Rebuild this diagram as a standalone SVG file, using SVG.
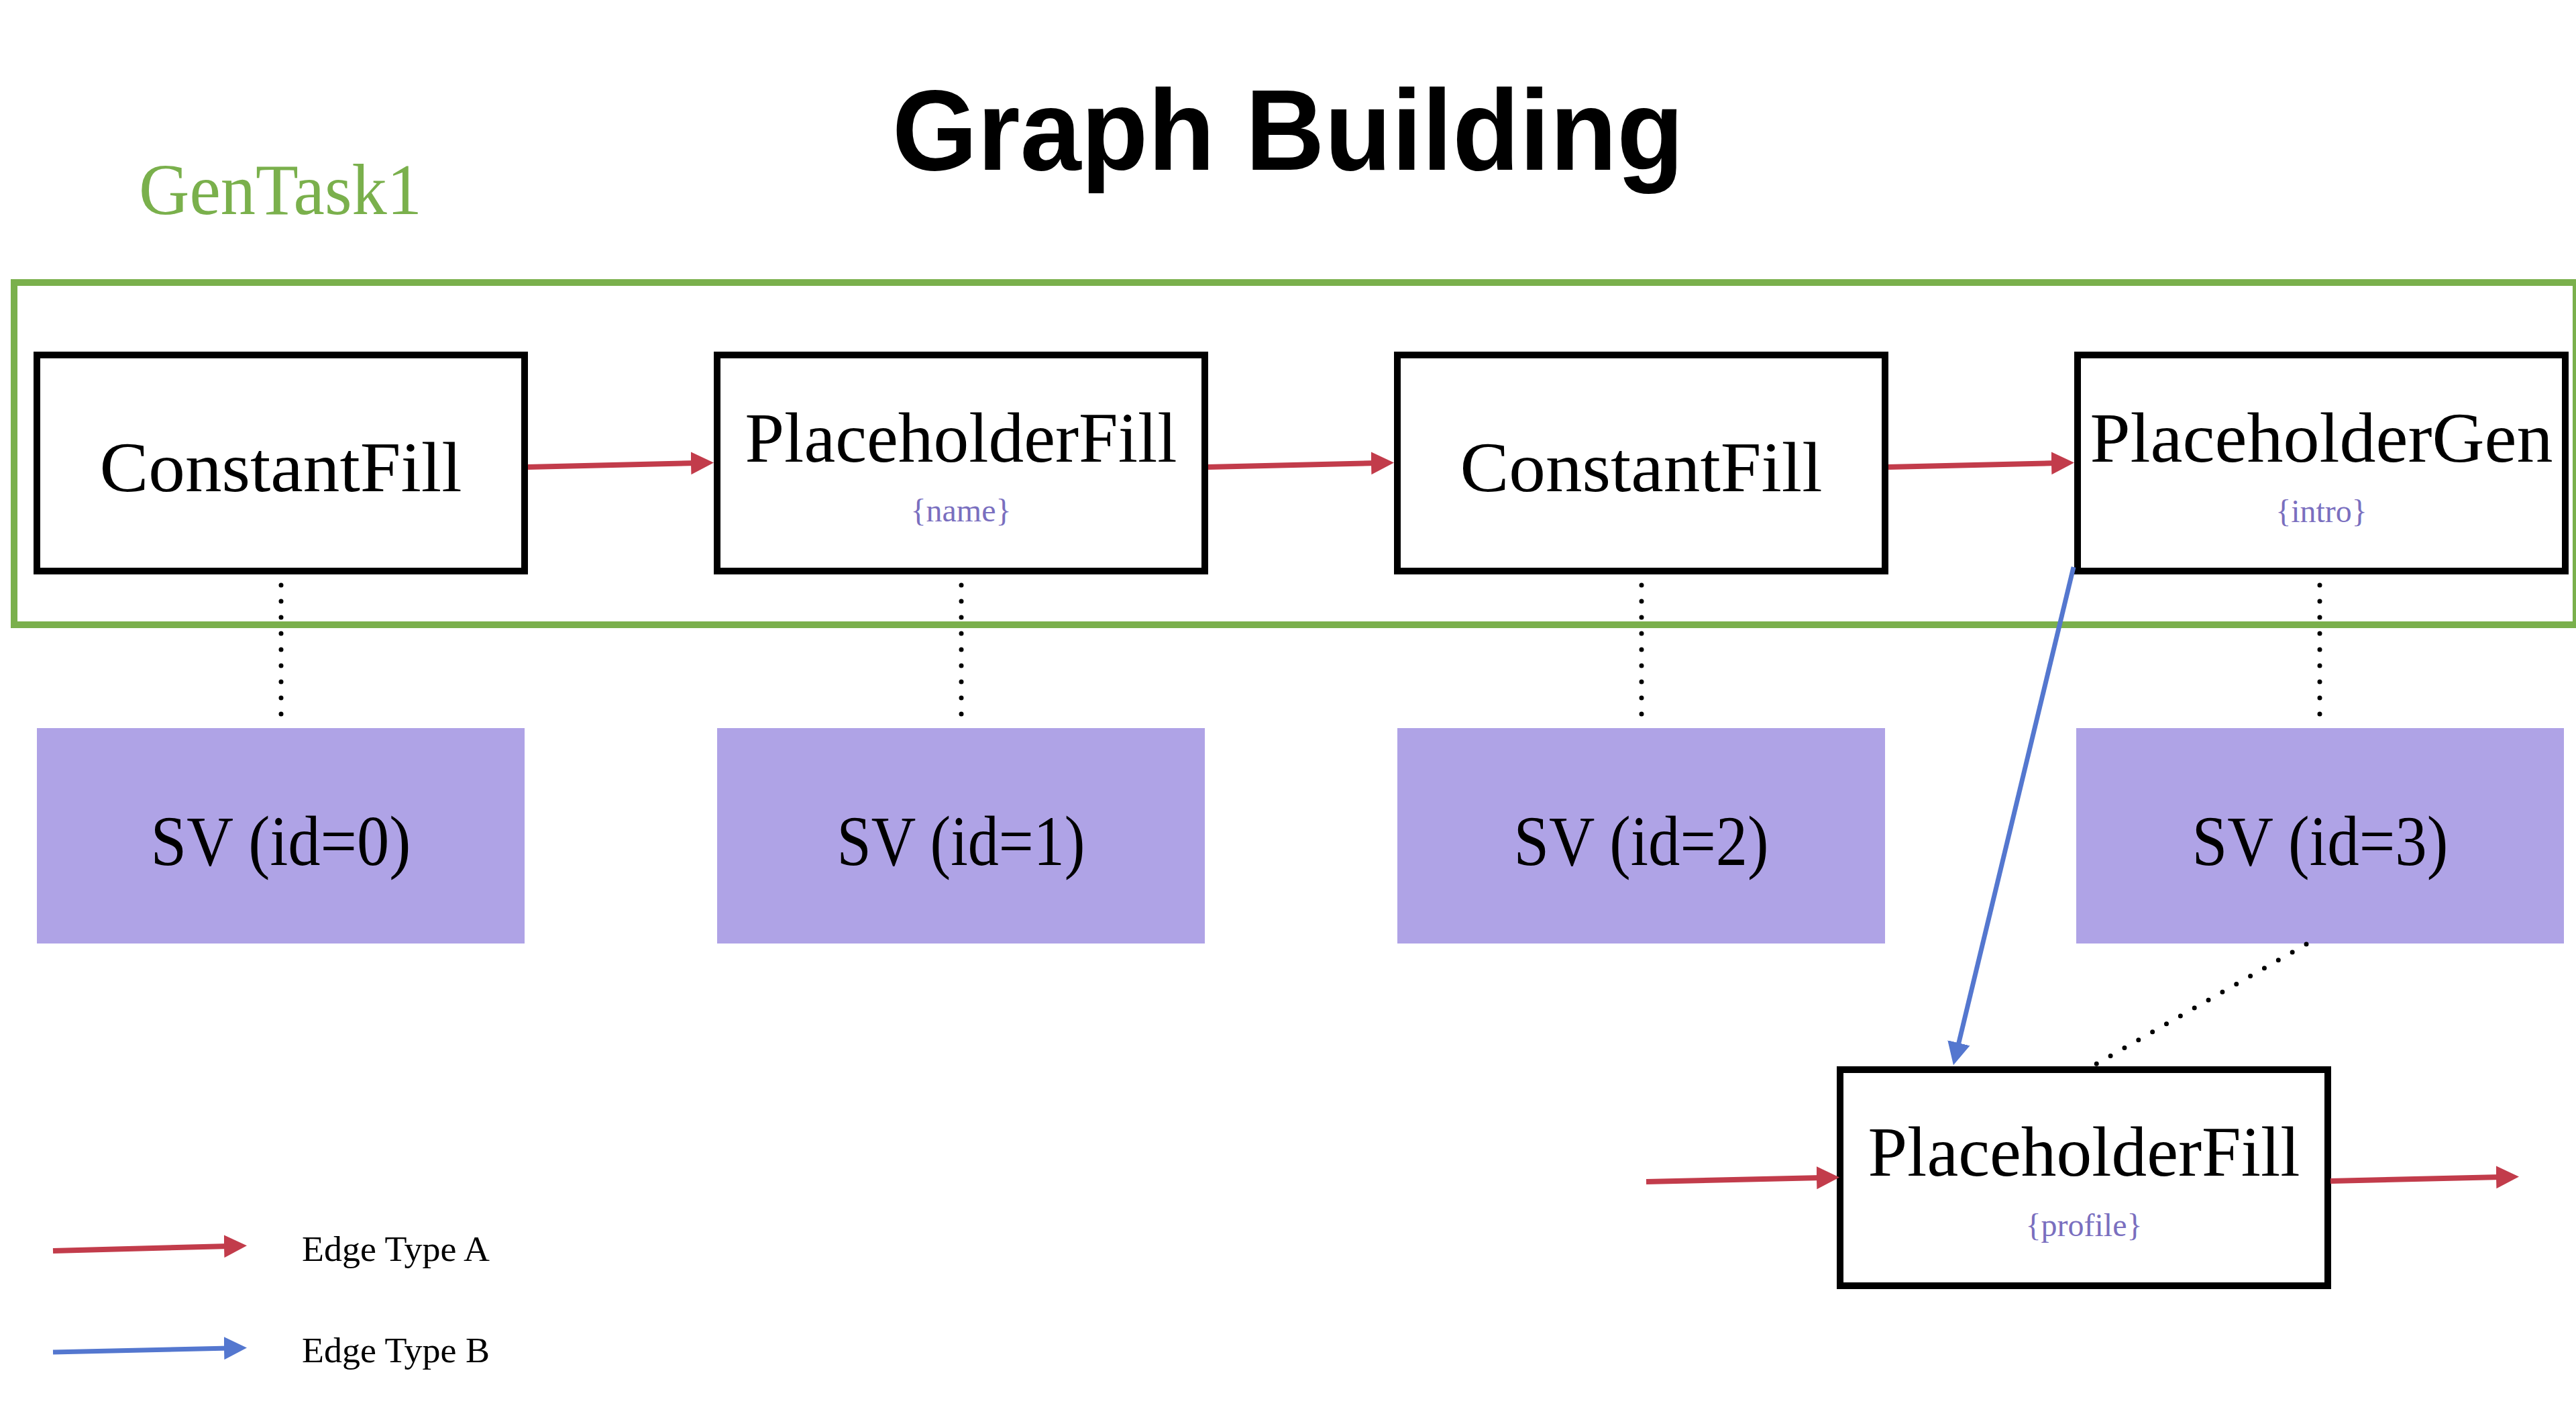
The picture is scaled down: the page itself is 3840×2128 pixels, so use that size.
<svg xmlns="http://www.w3.org/2000/svg" width="3840" height="2128" viewBox="0 0 3840 2128">
  <style>
    .title { font-family: "Liberation Sans", Arial, sans-serif; font-weight: bold; font-size: 170px; fill: #000; }
    .serif { font-family: "Liberation Serif", "Times New Roman", serif; }
    .op { fill: #fff; stroke: #000; stroke-width: 10; }
    .sv { fill: #afa3e6; stroke: none; }
    .lbl { font-size: 106px; fill: #000; text-anchor: middle; }
    .svlbl { font-size: 106px; fill: #000; text-anchor: middle; }
    .ph { font-size: 48px; fill: #7a6fbf; text-anchor: middle; }
    .edgeA { stroke: #c23c4b; stroke-width: 8; fill: none; marker-end: url(#headA); }
    .edgeB { stroke: #5477cf; stroke-width: 7; fill: none; marker-end: url(#headB); }
    .dot { stroke: #000; stroke-width: 7; stroke-linecap: round; stroke-dasharray: 0 24; fill: none; }
    .legend { font-size: 53px; fill: #000; }
  </style>
  <defs>
    <marker id="headA" markerUnits="userSpaceOnUse" markerWidth="34" markerHeight="34" refX="8" refY="17" orient="auto" viewBox="0 0 34 34">
      <path d="M0,0 L34,17 L0,34 Z" fill="#c23c4b"/>
    </marker>
    <marker id="headB" markerUnits="userSpaceOnUse" markerWidth="34" markerHeight="34" refX="8" refY="17" orient="auto" viewBox="0 0 34 34">
      <path d="M0,0 L34,17 L0,34 Z" fill="#5477cf"/>
    </marker>
  </defs>
  <rect width="3840" height="2128" fill="#fff"/>

  <text class="title" x="1920" y="253" text-anchor="middle" textLength="1180" lengthAdjust="spacingAndGlyphs">Graph Building</text>

  <g id="gentask1">
    <rect x="21" y="421" width="3819" height="510" fill="none" stroke="#7ab04c" stroke-width="10"/>
    <text class="serif" x="207" y="319" font-size="108" fill="#7ab04c" textLength="422" lengthAdjust="spacingAndGlyphs">GenTask1</text>
  </g>

  <g id="node-constantfill-1">
    <rect class="op" x="55" y="529" width="727" height="322"/>
    <text class="serif lbl" x="418.5" y="732" textLength="540" lengthAdjust="spacingAndGlyphs">ConstantFill</text>
  </g>
  <g id="node-placeholderfill-1">
    <rect class="op" x="1069" y="529" width="727" height="322"/>
    <text class="serif lbl" x="1432.5" y="688" textLength="644" lengthAdjust="spacingAndGlyphs">PlaceholderFill</text>
    <text class="serif ph" x="1432.5" y="777">{name}</text>
  </g>
  <g id="node-constantfill-2">
    <rect class="op" x="2083" y="529" width="727" height="322"/>
    <text class="serif lbl" x="2446.5" y="732" textLength="540" lengthAdjust="spacingAndGlyphs">ConstantFill</text>
  </g>
  <g id="node-placeholdergen">
    <rect class="op" x="3097" y="529" width="727" height="322"/>
    <text class="serif lbl" x="3460.5" y="688" textLength="690" lengthAdjust="spacingAndGlyphs">PlaceholderGen</text>
    <text class="serif ph" x="3460.5" y="778">{intro}</text>
  </g>

  <g id="node-sv0">
    <rect class="sv" x="55" y="1085" width="727" height="321"/>
    <text class="serif svlbl" x="418.5" y="1289" textLength="388" lengthAdjust="spacingAndGlyphs">SV (id=0)</text>
  </g>
  <g id="node-sv1">
    <rect class="sv" x="1069" y="1085" width="727" height="321"/>
    <text class="serif svlbl" x="1432.5" y="1289" textLength="370" lengthAdjust="spacingAndGlyphs">SV (id=1)</text>
  </g>
  <g id="node-sv2">
    <rect class="sv" x="2083" y="1085" width="727" height="321"/>
    <text class="serif svlbl" x="2446.5" y="1289" textLength="380" lengthAdjust="spacingAndGlyphs">SV (id=2)</text>
  </g>
  <g id="node-sv3">
    <rect class="sv" x="3095" y="1085" width="727" height="321"/>
    <text class="serif svlbl" x="3458.5" y="1289" textLength="382" lengthAdjust="spacingAndGlyphs">SV (id=3)</text>
  </g>

  <g id="node-placeholderfill-2">
    <rect class="op" x="2743" y="1594" width="727" height="322"/>
    <text class="serif lbl" x="3106.5" y="1752" textLength="644" lengthAdjust="spacingAndGlyphs">PlaceholderFill</text>
    <text class="serif ph" x="3106.5" y="1842">{profile}</text>
  </g>

  <g id="connectors">
    <line class="edgeA" x1="787" y1="696" x2="1038" y2="690"/>
    <line class="edgeA" x1="1801" y1="696" x2="2052" y2="690"/>
    <line class="edgeA" x1="2815" y1="696" x2="3066" y2="690"/>
    <line class="edgeA" x1="2454" y1="1761" x2="2716" y2="1755"/>
    <line class="edgeA" x1="3474" y1="1760" x2="3729" y2="1754"/>
    <line class="edgeB" x1="3091" y1="845" x2="2918" y2="1562"/>
    <line class="dot" x1="419" y1="872" x2="419" y2="1065"/>
    <line class="dot" x1="1433" y1="872" x2="1433" y2="1065"/>
    <line class="dot" x1="2447" y1="872" x2="2447" y2="1065"/>
    <line class="dot" x1="3458" y1="872" x2="3458" y2="1065"/>
    <line class="dot" x1="3438" y1="1407" x2="3124" y2="1586"/>
  </g>

  <g id="legend">
    <line class="edgeA" x1="79" y1="1864" x2="342" y2="1857"/>
    <line class="edgeB" x1="79" y1="2015" x2="342" y2="2009" stroke-width="8"/>
    <text class="serif legend" x="450" y="1879" textLength="280" lengthAdjust="spacingAndGlyphs">Edge Type A</text>
    <text class="serif legend" x="450" y="2030" textLength="280" lengthAdjust="spacingAndGlyphs">Edge Type B</text>
  </g>
</svg>
